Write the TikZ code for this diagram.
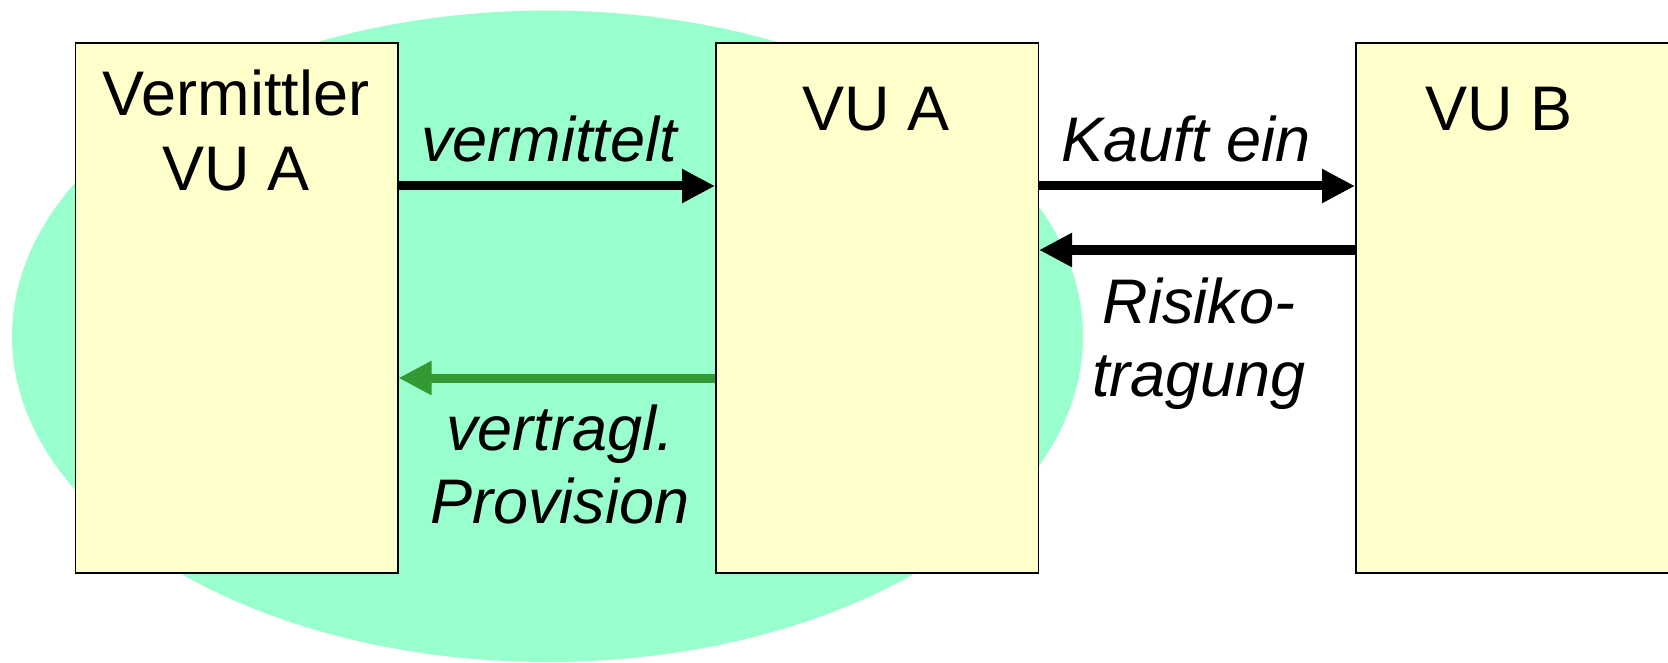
\documentclass[tikz,border=0pt]{standalone}
\usepackage{fontspec}
\setmainfont{Liberation Sans}
\usetikzlibrary{arrows.meta}

\definecolor{blobgreen}{RGB}{153,255,204}
\definecolor{boxyellow}{RGB}{255,255,204}
\definecolor{feegreen}{RGB}{51,153,51}

\tikzset{
  party/.style={draw=black, line width=1.5pt, fill=boxyellow, rectangle,
    minimum width=322.5pt, minimum height=529.5pt, inner sep=0pt, anchor=north west},
  % multi-line labels: the base anchor sits on the last line's baseline
  partyname/.style={font=\fontsize{63}{75}\selectfont, align=center, anchor=base, inner sep=0pt},
  flowlabel/.style={font=\fontsize{63}{73}\selectfont\itshape, align=center, anchor=base, inner sep=0pt},
  flow/.style={line width=9pt, -{Triangle[length=33pt,width=32pt]}},
}

\begin{document}
\begin{tikzpicture}[x=1pt, y=-1pt]
  \path[use as bounding box, clip] (0,0) rectangle (1668,663);

  % group of the insurer and its broker
  \fill[blobgreen] (547.5,336.3) ellipse [x radius=535.5, y radius=325.7];

  % the three parties
  \node[party] (vma) at (74.5,42.5) {};
  \node[party] (vua) at (715,42.5) {};
  \node[party] (vub) at (1355,42.5) {};

  \node[partyname] (tvma) at (236,190.5) {Vermittler\\VU A};
  \node[partyname] (tvua) at (876,130.5) {VU A};
  \node[partyname] (tvub) at (1499,130.5) {VU B};

  % flows between the parties
  \draw[flow] ([yshift=-143.5pt]vma.north east) -- ([yshift=-143.5pt]vua.north west);
  \draw[flow, feegreen] ([yshift=-335.5pt]vua.north west) -- ([yshift=-335.5pt]vma.north east);
  \draw[flow] ([yshift=-143.5pt]vua.north east) -- ([yshift=-143.5pt]vub.north west);
  \draw[flow] ([yshift=-207.5pt]vub.north west) -- ([yshift=-207.5pt]vua.north east);

  \node[flowlabel] (lverm) at (549,162) {vermittelt};
  \node[flowlabel] (lkauf) at (1186,162) {Kauft ein};
  \node[flowlabel] (lrisk) at (1199,396.5) {Risiko-\\tragung};
  \node[flowlabel] (lprov) at (560,523) {vertragl.\\Provision};
\end{tikzpicture}
\end{document}
